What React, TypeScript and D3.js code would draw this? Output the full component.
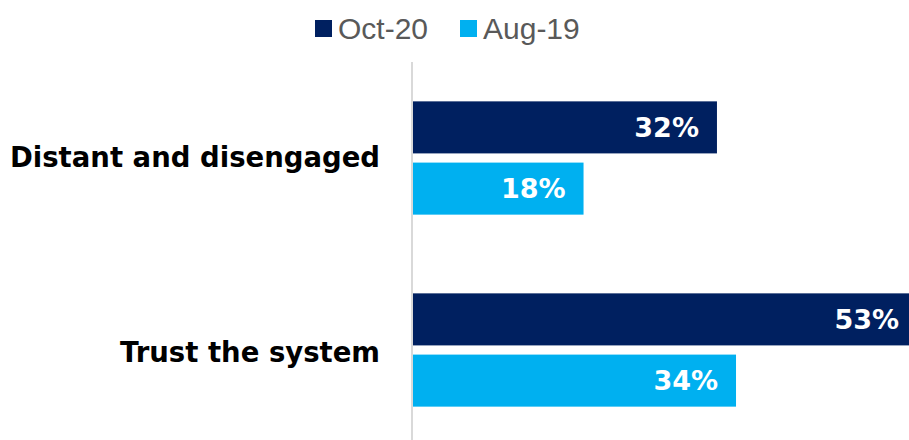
import * as d3 from "d3";
import React, { useEffect, useRef } from "react";

const categories = ["Distant and disengaged", "Trust the system"];
const seriesNames = ["Oct-20", "Aug-19"];
const oct20 = [32, 53];
const aug19 = [18, 34];
const colors = ["#002060", "#00B0F0"];

const App: React.FC = () => {
  const svgRef = useRef<SVGSVGElement | null>(null);

  useEffect(() => {
    const width = 909;
    const height = 440;
    const svg = d3.select(svgRef.current);
    svg.selectAll("*").remove();
    svg.attr("width", width).attr("height", height);

    const axisX = 412;
    const x = d3.scaleLinear().domain([0, 100]).range([axisX, axisX + 953]);

    const y0 = d3
      .scaleBand()
      .domain(categories)
      .range([62, 446])
      .paddingInner(0.41)
      .paddingOuter(0.205);

    const y1 = d3
      .scaleBand()
      .domain(seriesNames)
      .range([0, y0.bandwidth()])
      .paddingInner(0.15);

    const rows = categories.map((c, i) => ({
      cat: c,
      values: [
        { s: seriesNames[0], v: oct20[i] },
        { s: seriesNames[1], v: aug19[i] },
      ],
    }));

    // barre
    const groups = svg
      .append("g")
      .selectAll("g")
      .data(rows)
      .join("g")
      .attr("transform", (d) => `translate(0,${y0(d.cat)})`);

    groups
      .selectAll("rect")
      .data((d) => d.values)
      .join("rect")
      .attr("x", x(0))
      .attr("y", (d) => y1(d.s)!)
      .attr("width", (d) => x(d.v) - x(0))
      .attr("height", y1.bandwidth())
      .attr("fill", (d, i) => colors[i]);

    groups
      .selectAll("text")
      .data((d) => d.values)
      .join("text")
      .attr("x", (d) => x(d.v) - 18)
      .attr("y", (d) => y1(d.s)! + y1.bandwidth() / 2)
      .attr("dy", "0.36em")
      .attr("text-anchor", "end")
      .attr("fill", "#fff")
      .attr("font-family", "'DejaVu Sans', sans-serif")
      .attr("font-weight", "bold")
      .attr("font-size", 27)
      .text((d) => `${d.v}%`);

    // asse
    svg
      .append("line")
      .attr("x1", axisX)
      .attr("x2", axisX)
      .attr("y1", 62)
      .attr("y2", height)
      .attr("stroke", "#d9d9d9")
      .attr("stroke-width", 2);

    // etichette categorie
    svg
      .append("g")
      .selectAll("text")
      .data(categories)
      .join("text")
      .attr("x", 380)
      .attr("y", (d, i) => y0(d)! + y0.bandwidth() / 2 + (i === 0 ? -1 : 2))
      .attr("dy", "0.36em")
      .attr("text-anchor", "end")
      .attr("fill", "#000")
      .attr("font-family", "'DejaVu Sans', sans-serif")
      .attr("font-weight", "bold")
      .attr("font-size", 27.5)
      .text((d) => d);

    // legenda
    const legendX = [315, 460];
    const legend = svg
      .append("g")
      .selectAll("g")
      .data(seriesNames)
      .join("g")
      .attr("transform", (d, i) => `translate(${legendX[i]},20)`);
    legend
      .append("rect")
      .attr("width", 17)
      .attr("height", 17)
      .attr("fill", (d, i) => colors[i]);
    legend
      .append("text")
      .attr("x", 23)
      .attr("y", 8.5)
      .attr("dy", "0.36em")
      .attr("fill", "#595959")
      .attr("font-family", "Arial, 'Liberation Sans', sans-serif")
      .attr("font-size", 30)
      .text((d) => d);
  }, []);

  return (
    <svg
      ref={svgRef}
      style={{ position: "absolute", left: 0, top: 0, display: "block" }}
    />
  );
};

export default App;
